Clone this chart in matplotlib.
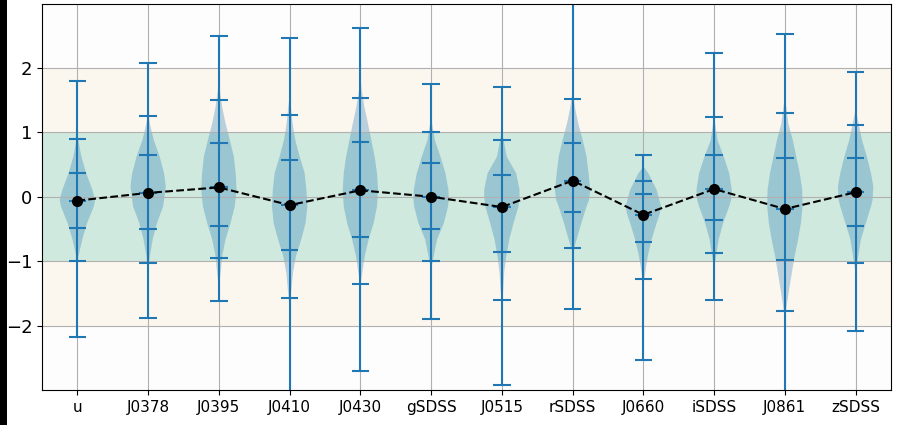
import numpy as np
import matplotlib
matplotlib.use('Agg')
import matplotlib.pyplot as plt
from matplotlib.patches import Rectangle

### DATA
bands = ['u', 'J0378', 'J0395', 'J0410', 'J0430', 'gSDSS', 'J0515',
         'rSDSS', 'J0660', 'iSDSS', 'J0861', 'zSDSS']
centre = [-0.06, 0.06, 0.145, -0.13, 0.10, 0.0, -0.16, 0.25, -0.28, 0.12, -0.19, 0.07]
maxima = [1.80, 2.08, 2.50, 2.46, 2.62, 1.755, 1.70, 3.3, 0.65, 2.23, 2.53, 1.93]
minima = [-2.18, -1.89, -1.62, -3.3, -2.70, -1.90, -2.92, -1.74, -2.54, -1.61, -3.4, -2.08]
q_hi2 = [0.895, 1.255, 1.50, 1.275, 1.53, 1.01, 0.88, 1.51, 0.25, 1.24, 1.30, 1.11]
q_hi1 = [0.37, 0.65, 0.84, 0.57, 0.853, 0.52, 0.33, 0.84, 0.035, 0.65, 0.60, 0.60]
q_lo1 = [-0.48, -0.50, -0.45, -0.82, -0.63, -0.50, -0.86, -0.24, -0.705, -0.36, -0.98, -0.46]
q_lo2 = [-1.0, -1.03, -0.95, -1.57, -1.36, -1.0, -1.61, -0.79, -1.275, -0.87, -1.775, -1.03]

# violin outlines: y level and relative half width
shape_y = [
    [0.96, 0.62, 0.365, 0.107, -0.05, -0.15, -0.41, -0.66, -1.0],
    [1.31, 1.137, 0.88, 0.62, 0.365, 0.16, -0.15, -0.41, -0.66, -0.92, -1.13],
    [1.78, 1.65, 1.39, 1.137, 0.88, 0.62, 0.365, 0.107, -0.15, -0.41, -0.66, -0.92, -1.18, -1.39],
    [1.56, 1.39, 1.137, 0.88, 0.62, 0.365, 0.107, -0.15, -0.41, -0.66, -0.92, -1.18, -1.44, -1.74],
    [1.86, 1.65, 1.39, 1.137, 0.88, 0.62, 0.365, 0.107, -0.15, -0.41, -0.66, -0.92, -1.18, -1.39],
    [1.24, 1.137, 0.88, 0.62, 0.365, 0.107, -0.05, -0.15, -0.41, -0.66, -0.92, -1.13],
    [1.0, 0.88, 0.62, 0.365, 0.107, 0.0, -0.15, -0.41, -0.66, -0.92, -1.18, -1.44, -1.64],
    [1.65, 1.39, 1.137, 0.88, 0.62, 0.365, 0.107, -0.05, -0.15, -0.41, -0.66, -0.87],
    [0.47, 0.365, 0.107, -0.15, -0.25, -0.41, -0.66, -0.92, -1.18, -1.39],
    [1.24, 1.137, 0.88, 0.62, 0.365, 0.107, -0.05, -0.15, -0.41, -0.66, -0.92, -1.13],
    [1.52, 1.39, 1.137, 0.88, 0.62, 0.365, 0.107, -0.15, -0.41, -0.66, -0.92, -1.18, -1.44, -1.69, -1.9],
    [1.36, 1.137, 0.88, 0.62, 0.365, 0.16, -0.05, -0.15, -0.41, -0.66, -0.92, -1.18],
]
shape_w = [
    [0, 0.23, 0.5, 0.85, 1.0, 0.93, 0.55, 0.28, 0],
    [0, 0.1, 0.32, 0.66, 0.9, 1.0, 0.85, 0.5, 0.26, 0.1, 0],
    [0, 0.06, 0.19, 0.38, 0.62, 0.85, 0.95, 1.0, 0.9, 0.66, 0.38, 0.19, 0.1, 0],
    [0, 0.08, 0.17, 0.32, 0.57, 0.85, 0.95, 1.0, 0.9, 0.66, 0.36, 0.19, 0.1, 0],
    [0, 0.08, 0.23, 0.43, 0.62, 0.81, 0.94, 1.0, 0.94, 0.75, 0.47, 0.25, 0.11, 0],
    [0, 0.06, 0.21, 0.53, 0.81, 0.98, 1.0, 0.96, 0.72, 0.34, 0.15, 0],
    [0, 0.1, 0.28, 0.81, 1.0, 1.0, 0.94, 0.66, 0.42, 0.25, 0.13, 0.08, 0],
    [0, 0.13, 0.32, 0.57, 0.79, 0.9, 1.0, 0.93, 0.79, 0.49, 0.23, 0],
    [0, 0.28, 0.75, 1.0, 0.94, 0.75, 0.47, 0.25, 0.1, 0],
    [0, 0.06, 0.19, 0.55, 0.85, 1.0, 0.96, 0.85, 0.51, 0.26, 0.11, 0],
    [0, 0.08, 0.19, 0.43, 0.62, 0.81, 0.94, 0.96, 0.87, 0.72, 0.53, 0.38, 0.23, 0.1, 0],
    [0, 0.17, 0.36, 0.64, 0.87, 1.0, 0.96, 0.87, 0.58, 0.3, 0.15, 0],
]

### BUILD violin stats
pos = np.arange(1, len(bands) + 1)
vpstats = []
for i in range(len(bands)):
    vpstats += [{'coords': np.array(shape_y[i]), 'vals': np.array(shape_w[i]),
                 'mean': centre[i], 'median': centre[i],
                 'min': minima[i], 'max': maxima[i],
                 'quantiles': np.array([q_lo2[i], q_lo1[i], centre[i], q_hi1[i], q_hi2[i]])}]

### PLOT
fig = plt.figure(figsize=(8.97, 4.25), dpi=100)
fig.patches.append(Rectangle((0, 0), 7 / 897, 1, transform=fig.transFigure,
                             facecolor='black', zorder=-1))
ax = fig.add_axes([42 / 897, 1 - 390 / 425, (891 - 42) / 897, (390 - 3.5) / 425])
ax.set_facecolor('#fdfdfd')

ax.axhspan(1, 2, color='#fcf7ee', lw=0)
ax.axhspan(-2, -1, color='#fcf7ee', lw=0)
ax.axhspan(-1, 1, color='#d0e9de', lw=0)

ax.violin(vpstats, positions=pos, widths=0.5, showextrema=True)
ax.plot(pos, centre, 'k--o', ms=7, lw=1.5, zorder=3)

ax.set_xlim(0.5, 12.5)
ax.set_ylim(-3, 3)
ax.set_xticks(pos)
ax.set_xticklabels(bands)
ax.set_yticks([-2, -1, 0, 1, 2])
ax.tick_params(axis='y', labelsize=13)
ax.tick_params(axis='x', labelsize=11)
ax.grid(True)

fig.savefig('out.png', dpi=100)
